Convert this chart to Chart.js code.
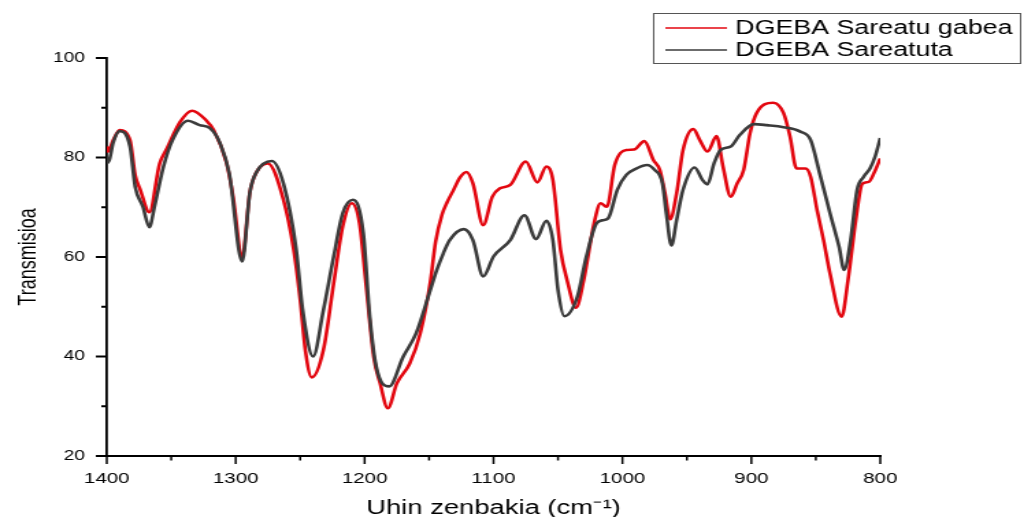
<!DOCTYPE html>
<html>
<head>
<meta charset="utf-8">
<script src="https://cdn.jsdelivr.net/npm/chart.js@4.4.1/dist/chart.umd.min.js"></script>
<style>
  html, body { margin: 0; padding: 0; background: #ffffff; overflow: hidden; }
  #wrap { width: 748px; height: 517px; transform: scaleX(1.369); transform-origin: 0 0; }
  canvas { display: block; }
</style>
</head>
<body>
<div id="wrap"><canvas id="c" width="748" height="517"></canvas></div>
<script>
// FTIR spectra, 1400–800 cm-1
const seriesLabels = ['DGEBA Sareatu gabea', 'DGEBA Sareatuta'];
const seriesColors = ['#e3060f', '#3b3b3b'];

const uncuredWave = [1400,1399,1395,1390,1382,1378,1374,1367,1359,1354,1343,1334,1323,1317,1307,1302,1295,1289,1284,1275,1263,1255,1250,1246,1241,1232,1224,1217,1210,1204,1199,1193,1188,1182,1175,1165,1157,1149,1145,1140,1136,1131,1126,1121,1116,1108,1101,1095,1087,1075,1066,1059,1054,1048,1043,1036,1030,1022,1017,1012,1006,997,991,983,976,971,967,963,958,953,945,940,934,927,922,916,911,906,901,896,883,875,870,865,858,854,849,844,839,830,825,819,814,809,805,800];
const uncuredTrans = [82.2,81.2,83.5,85.5,83.5,76.5,73.5,69.0,78.8,81.5,87.2,89.4,87.5,85.5,78.8,72.1,60.0,73.0,77.0,78.8,71.5,61.4,51.4,41.3,35.8,41.3,54.7,66.1,70.8,66.8,54.7,40.0,34.6,29.6,34.6,38.6,44.5,55.0,63.0,68.5,71.0,73.5,76.0,77.1,74.8,66.4,72.1,73.8,74.5,79.2,75.0,78.2,75.5,61.4,55.4,49.8,55.4,66.8,70.8,70.1,78.5,81.5,81.6,83.3,79.5,77.5,72.8,67.6,72.8,81.5,85.7,83.5,81.2,84.3,78.2,72.1,74.8,77.5,84.9,88.9,91.0,88.9,84.2,77.8,77.8,76.1,69.4,63.4,56.7,48.0,55.4,67.4,74.7,75.1,76.8,79.8];

const curedWave = [1400,1398,1395,1390,1382,1378,1372,1367,1363,1356,1349,1337,1328,1320,1312,1305,1295,1289,1284,1272,1263,1253,1248,1240,1232,1224,1217,1209,1201,1196,1191,1181,1170,1160,1149,1144,1139,1134,1123,1116,1108,1100,1087,1076,1067,1059,1054,1050,1045,1035,1028,1020,1015,1011,1004,997,989,981,975,969,966,962,958,953,944,938,934,929,924,916,909,898,888,875,862,854,847,839,832,828,823,818,813,808,804,800];
const curedTrans = [78.8,79.5,83.0,85.3,82.2,74.1,70.1,66.0,70.1,78.2,83.5,87.4,86.5,85.9,82.8,76.8,59.1,73.0,77.0,79.3,74.8,61.4,49.3,40.0,49.3,60.1,68.8,71.5,64.8,48.0,38.0,34.0,40.0,44.7,53.4,57.4,60.7,63.4,65.6,63.4,56.1,60.1,63.4,68.4,63.6,67.3,63.4,53.4,48.1,52.0,60.1,66.8,67.4,67.8,73.5,76.5,77.8,78.5,77.5,74.8,68.8,62.3,67.4,73.5,78.0,75.5,74.6,78.8,81.5,82.2,84.5,86.7,86.5,86.1,85.2,83.5,76.8,68.8,62.1,57.4,63.4,73.5,76.1,77.8,80.2,83.9];

const xMajorTicks = [1400, 1300, 1200, 1100, 1000, 900, 800];
const yMajorTicks = [20, 40, 60, 80, 100];

function pairs(xs, ys) { return xs.map((x, i) => ({ x: x, y: ys[i] })); }

// Outward tick marks: long on labelled values, short in between
const tickMarks = {
  id: 'tickMarks',
  afterDraw(chart) {
    const ctx = chart.ctx, xs = chart.scales.x, ys = chart.scales.y;
    ctx.save();
    ctx.strokeStyle = '#000';
    ctx.lineWidth = 1.5;
    for (let v = 800; v <= 1400; v += 50) {
      const px = xs.getPixelForValue(v);
      const len = xMajorTicks.includes(v) ? 8 : 4.5;
      ctx.beginPath(); ctx.moveTo(px, xs.top); ctx.lineTo(px, xs.top + len); ctx.stroke();
    }
    ctx.lineWidth = 2;
    for (let v = 20; v <= 100; v += 10) {
      const py = ys.getPixelForValue(v);
      const len = yMajorTicks.includes(v) ? 8 : 4;
      ctx.beginPath(); ctx.moveTo(ys.right, py); ctx.lineTo(ys.right - len, py); ctx.stroke();
    }
    ctx.restore();
  }
};

// Boxed legend in the upper right corner
const boxedLegend = {
  id: 'boxedLegend',
  afterDraw(chart) {
    const ctx = chart.ctx;
    const left = 477, top = 13, right = 745, bottom = 63;
    ctx.save();
    ctx.strokeStyle = '#555';
    ctx.lineWidth = 1;
    ctx.strokeRect(left + 0.5, top + 0.5, right - left, bottom - top);
    ctx.font = '19.6px "Liberation Sans", Arial, sans-serif';
    ctx.textBaseline = 'middle';
    ctx.textAlign = 'left';
    chart.data.datasets.forEach((ds, i) => {
      const y = 28 + i * 22;
      ctx.strokeStyle = ds.borderColor;
      ctx.lineWidth = 1.6;
      ctx.beginPath(); ctx.moveTo(486, y); ctx.lineTo(531, y); ctx.stroke();
      ctx.fillStyle = '#000';
      ctx.fillText(ds.label, 537, y + 1);
    });
    ctx.restore();
  }
};

new Chart(document.getElementById('c'), {
  type: 'line',
  data: {
    datasets: [
      { label: seriesLabels[0], data: pairs(uncuredWave, uncuredTrans), borderColor: seriesColors[0],
        borderWidth: 2.6, pointRadius: 0, cubicInterpolationMode: 'monotone', fill: false, order: 1 },
      { label: seriesLabels[1], data: pairs(curedWave, curedTrans), borderColor: seriesColors[1],
        borderWidth: 2.6, pointRadius: 0, cubicInterpolationMode: 'monotone', fill: false, order: 0 }
    ]
  },
  options: {
    responsive: false,
    animation: false,
    devicePixelRatio: 1,
    layout: { padding: { left: 0, right: 105, top: 58, bottom: 0 } },
    plugins: { legend: { display: false }, tooltip: { enabled: false } },
    scales: {
      x: {
        type: 'linear', min: 800, max: 1400, reverse: true,
        grid: { display: false, drawTicks: false },
        border: { display: true, color: '#000', width: 2 },
        ticks: {
          stepSize: 50, autoSkip: false, maxRotation: 0, padding: 14, color: '#000',
          font: { family: '"Liberation Sans", Arial, sans-serif', size: 15 },
          callback: v => xMajorTicks.includes(v) ? String(v) : ''
        },
        title: { display: true, text: 'Uhin zenbakia (cm\u207B\u00B9)', color: '#000',
          font: { family: '"Liberation Sans", Arial, sans-serif', size: 20 }, padding: { top: 0, bottom: -3 } },
        afterFit(scale) { scale.height = 61; }
      },
      y: {
        min: 20, max: 100,
        grid: { display: false, drawTicks: false },
        border: { display: true, color: '#000', width: 1.8 },
        ticks: {
          stepSize: 10, autoSkip: false, padding: 16, color: '#000',
          font: { family: '"Liberation Sans", Arial, sans-serif', size: 14 },
          callback: v => yMajorTicks.includes(v) ? String(v) : ''
        },
        title: { display: true, text: 'Transmisioa', color: '#000',
          font: { family: '"Liberation Sans", Arial, sans-serif', size: 18 }, padding: { top: 10, bottom: 0 } },
        afterFit(scale) { scale.width = 78; }
      }
    }
  },
  plugins: [tickMarks, boxedLegend]
});
</script>
</body>
</html>
